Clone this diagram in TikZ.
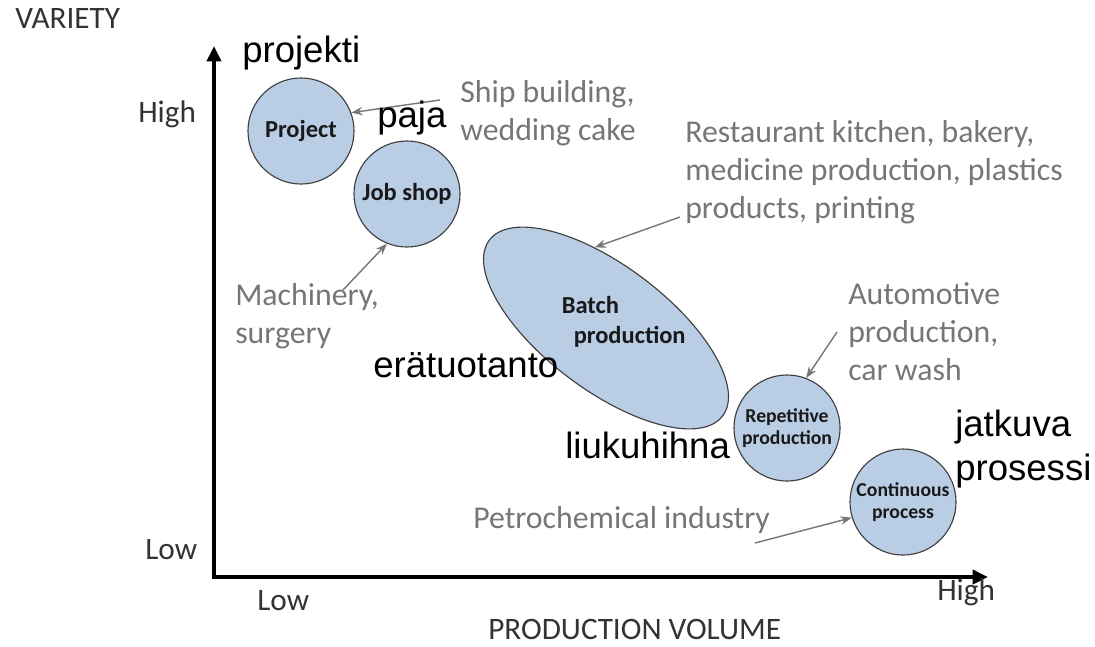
\documentclass[tikz,border=0pt]{standalone}
\usepackage{fontspec}
\setmainfont{Carlito}
\newfontfamily\arialfont{Liberation Sans}
\usetikzlibrary{positioning}
\usetikzlibrary{shapes.geometric}
\usetikzlibrary{arrows.meta}

\definecolor{circfill}{HTML}{B9CDE5}
\definecolor{circline}{HTML}{3F3F3F}
\definecolor{exgray}{HTML}{767676}
\definecolor{axgray}{HTML}{333333}

\begin{document}
\begin{tikzpicture}[x=0.025cm, y=-0.025cm,
    stage/.style = {draw=circline, fill=circfill, circle, line width=0.8pt, minimum size=2.65cm, inner sep=0pt,
                    align=center, text=black!90, font=\bfseries\fontsize{17.4}{21.5}\selectfont},
    smallstage/.style = {stage, font=\bfseries\fontsize{14}{15.5}\selectfont},
    example/.style = {text=exgray, font=\fontsize{22.6}{26.7}\selectfont, align=left, anchor=base west, inner sep=0pt},
    finnish/.style = {font=\arialfont\fontsize{26}{30.6}\selectfont, align=left, anchor=base west, inner sep=0pt},
    axislabel/.style = {text=axgray, font=\fontsize{22.2}{26}\selectfont, anchor=base west, inner sep=0pt},
    pointer/.style = {draw=exgray, line width=1pt, -{Stealth[length=8pt, width=6pt]}},
    axis/.style = {line width=3.5pt, {Triangle[length=11pt, width=10pt]}-{Triangle[length=11pt, width=10pt]}}]
    \useasboundingbox (0,0) rectangle (1095,646);

    % axes
    \coordinate (ytop) at (214,46);
    \coordinate (origin) at (214,577);
    \coordinate (xend) at (988,577);
    \draw[axis] (ytop) -- (origin) -- (xend);

    \node[axislabel] (variety) at (15,28) {VARIETY};
    \node[axislabel] (yhigh) at (138,122) {High};
    \node[axislabel] (ylow) at (145,559) {Low};
    \node[axislabel] (xlow) at (257,610) {Low};
    \node[axislabel] (xhigh) at (937,600) {High};
    \node[axislabel] (volume) at (488,639) {PRODUCTION VOLUME};

    % process types
    \node[stage] (project) at (301,131) {Project};
    \node[stage] (jobshop) at (407,194) {Job shop};
    \node[ellipse, draw=circline, fill=circfill, line width=0.8pt, minimum width=7.3cm, minimum height=3.1cm,
          inner sep=0pt, rotate=-37] (batch) at (606,328) {};
    \node[align=center, text=black!90, font=\bfseries\fontsize{17.4}{21.5}\selectfont] (batchtext) at (610,322)
        {Batch\hspace*{28pt}\\\hspace*{28pt}production};
    \node[smallstage] (repetitive) at (787,428) {Repetitive\\production};
    \node[smallstage] (continuous) at (903,502) {Continuous\\process};

    % examples (base = last line)
    \node[example] (ship) at (460,140) {Ship building,\\wedding cake};
    \node[example] (restaurant) at (685,218) {Restaurant kitchen, bakery,\\medicine production, plastics\\products, printing};
    \node[example] (machinery) at (235,343) {Machinery,\\surgery};
    \node[example] (automotive) at (848,380) {Automotive\\production,\\car wash};
    \node[example] (petro) at (473,528) {Petrochemical industry};

    \coordinate (shiptail) at (440,100);
    \coordinate (restauranttail) at (680,217);
    \coordinate (machinerytail) at (343,290);
    \coordinate (automotivetail) at (837,332);
    \coordinate (petrotail) at (755,543);

    \draw[pointer] (shiptail) -- (project.20);
    \draw[pointer] (machinerytail) -- (jobshop.248);
    \draw[pointer] (restauranttail) -- (batch.135);
    \draw[pointer] (automotivetail) -- (repetitive.69);
    \draw[pointer] (petrotail) -- (continuous.197);

    % finnish names
    \node[finnish] (projekti) at (242,62) {projekti};
    \node[finnish] (paja) at (377,127) {paja};
    \node[finnish] (eratuotanto) at (373,377) {erätuotanto};
    \node[finnish] (liukuhihna) at (565,458) {liukuhihna};
    \node[finnish] (jatkuva) at (955,480) {jatkuva\\prosessi};
\end{tikzpicture}
\end{document}
